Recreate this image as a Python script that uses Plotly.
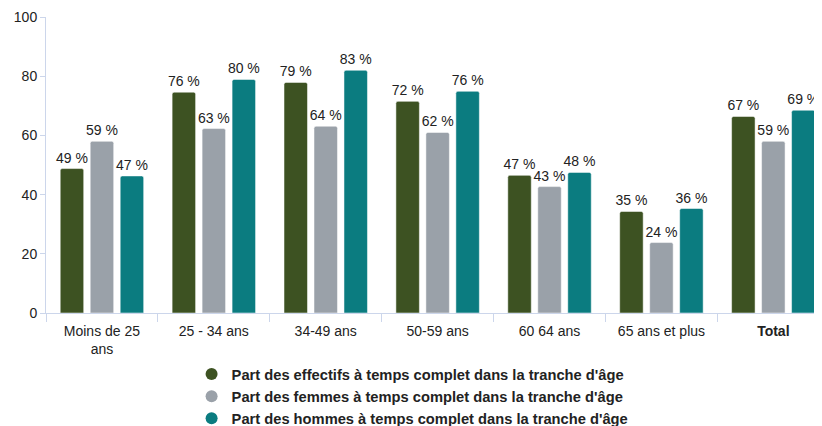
import plotly.graph_objects as go

categories = ["Moins de 25<br>ans", "25 - 34 ans", "34-49 ans", "50-59 ans", "60 64 ans", "65 ans et plus", "<b>Total</b>"]
series_names = [
    "Part des effectifs à temps complet dans la tranche d'âge",
    "Part des femmes à temps complet dans la tranche d'âge",
    "Part des hommes à temps complet dans la tranche d'âge",
]
effectifs = [48.8, 74.6, 77.9, 71.5, 46.5, 34.3, 66.4]
femmes = [58.0, 62.3, 63.1, 61.0, 42.7, 23.8, 58.0]
hommes = [46.3, 78.9, 82.0, 74.9, 47.5, 35.3, 68.5]
effectifs_labels = ["49 %", "76 %", "79 %", "72 %", "47 %", "35 %", "67 %"]
femmes_labels = ["59 %", "63 %", "64 %", "62 %", "43 %", "24 %", "59 %"]
hommes_labels = ["47 %", "80 %", "83 %", "76 %", "48 %", "36 %", "69 %"]
colors = ["#3d5222", "#9aa1a9", "#0b7c80"]
y_ticks = [0, 20, 40, 60, 80, 100]

fig = go.Figure()
for name, vals, labs, col in zip(series_names, [effectifs, femmes, hommes],
                                 [effectifs_labels, femmes_labels, hommes_labels], colors):
    fig.add_trace(go.Bar(
        x=categories, y=vals, text=labs, textposition="outside", constraintext="none",
        textfont=dict(size=14, color="#222222", family="Liberation Sans, Arial"),
        marker=dict(color=col, line=dict(color="rgba(255,255,255,0.5)", width=1)),
        name=name, showlegend=False, cliponaxis=False, hoverinfo="skip",
    ))
    fig.add_trace(go.Scatter(
        x=[None], y=[None], mode="markers", name=name,
        marker=dict(color=col, size=15, symbol="circle"),
    ))

fig.update_layout(
    width=822, height=440,
    margin=dict(l=38, r=8, t=9, b=135),
    barmode="group", bargap=0.196, bargroupgap=0.217, barcornerradius=2,
    plot_bgcolor="white", paper_bgcolor="white",
    font=dict(family="Liberation Sans, Arial", size=14, color="#333333"),
    legend=dict(
        orientation="v", x=0.4724, xanchor="center", y=-0.152, yanchor="top",
        font=dict(size=14.7, color="#222222", family="Liberation Sans, Arial", weight="bold"),
        itemsizing="constant", tracegroupgap=0, bgcolor="rgba(0,0,0,0)",
        itemwidth=30,
    ),
    showlegend=True,
)
fig.update_xaxes(
    range=[-0.5, 6.435], showline=True, linecolor="#ccd6eb", linewidth=1,
    ticks="outside", tickson="boundaries", ticklen=8, tickcolor="#ccd6eb",
    showgrid=False, tickfont=dict(size=14, color="#222222"), fixedrange=True,
    automargin=False, ticklabelstandoff=5,
)
fig.update_yaxes(
    range=[0, 100], tickvals=y_ticks, showline=True, linecolor="#ccd6eb", linewidth=1,
    ticks="outside", ticklen=5, tickcolor="#ccd6eb", showgrid=False, zeroline=False,
    tickfont=dict(size=14, color="#222222"), fixedrange=True, automargin=False,
)
fig.write_html("out.html")
